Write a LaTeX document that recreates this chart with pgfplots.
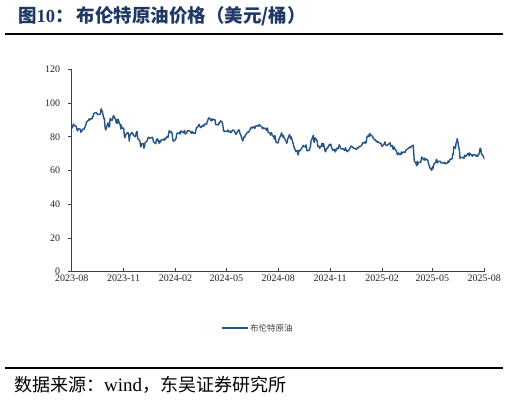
\documentclass[border=0pt]{standalone}
\usepackage{fontspec}
\setmainfont{Liberation Serif}
\newfontfamily\cjk{Noto Sans CJK SC}
\usepackage{pgfplots}
\usepackage{pgfplotstable}
\pgfplotsset{compat=1.18}
\definecolor{lineblue}{RGB}{38,84,134}
\definecolor{titleblue}{RGB}{31,56,100}
\definecolor{axisgray}{RGB}{64,64,64}
\pgfplotstableread{
d v
0 86.2
1 85.3
2 86.2
3 87.6
4 86.4
5 86.8
8 86.2
9 84.9
10 83.5
11 84.1
12 84.8
15 84.5
16 82.6
17 83.2
18 83.4
19 84.5
22 84.4
23 85.5
24 85.9
25 86.9
26 88.6
30 90.0
31 90.6
32 89.9
33 90.6
36 90.6
37 92.1
38 91.9
39 93.7
40 93.9
43 94.4
44 94.3
45 93.5
46 93.3
47 93.3
50 93.3
51 94.0
52 96.6
53 95.4
54 95.3
57 90.7
58 91.0
59 85.8
60 84.1
61 84.6
64 88.2
65 87.7
66 85.8
67 86.0
68 90.9
71 89.7
72 89.9
73 91.5
74 92.4
75 92.2
78 89.8
79 88.1
80 90.1
81 88.0
82 90.5
85 87.5
86 87.4
87 84.6
88 86.9
89 84.9
92 85.2
93 81.6
94 79.5
95 80.0
96 81.4
99 82.5
100 82.5
101 81.2
102 77.4
103 80.6
106 82.3
107 82.5
108 81.9
110 80.6
113 80.0
114 81.7
115 83.1
116 82.8
117 78.9
120 78.0
121 77.2
122 74.3
123 74.1
124 75.8
127 76.0
128 73.2
129 74.3
130 76.6
131 76.6
134 78.0
135 79.2
136 79.7
137 79.4
138 79.1
143 79.7
144 78.4
145 77.0
149 75.9
150 78.3
151 77.6
152 78.8
155 76.1
156 77.6
157 76.8
158 77.4
159 78.3
163 78.3
164 77.9
165 79.1
166 78.6
169 80.1
170 79.6
171 80.0
172 82.4
173 83.6
176 82.4
177 82.9
178 81.7
179 78.7
180 77.3
183 78.0
184 78.6
185 79.2
186 81.6
187 82.2
190 82.0
191 82.8
192 81.6
193 82.9
194 83.5
198 82.3
199 83.0
200 83.7
201 81.6
204 82.5
205 83.7
206 83.7
207 83.6
208 83.6
211 82.8
212 82.0
213 83.0
214 83.0
215 82.1
218 82.2
219 81.9
220 84.0
221 85.4
222 85.3
225 86.9
226 87.4
227 86.0
228 85.8
229 85.4
232 86.8
233 86.3
234 86.1
235 87.5
239 87.4
240 89.0
241 89.4
242 90.7
243 91.2
246 90.4
247 89.4
248 90.5
249 89.7
250 90.5
253 90.1
254 90.0
255 87.3
256 87.1
257 87.3
260 87.0
261 88.4
262 88.0
263 89.0
264 89.5
267 88.4
268 86.3
269 83.4
270 83.7
271 83.0
274 83.3
275 83.2
276 83.6
277 84.0
278 82.8
281 83.4
282 82.4
283 82.8
284 83.3
285 84.0
288 83.7
289 82.9
290 82.0
291 81.4
292 82.1
296 84.2
297 83.6
298 81.9
299 81.6
302 78.4
303 77.5
304 78.4
305 79.9
306 79.6
309 81.6
310 81.9
311 82.6
312 82.8
313 82.6
316 84.3
317 85.3
318 85.1
319 85.7
320 85.2
323 86.0
324 85.0
325 85.3
326 86.4
327 86.4
330 86.6
331 86.2
332 87.3
334 86.5
337 85.8
338 84.7
339 85.1
340 85.4
341 85.0
344 84.9
345 83.7
346 85.1
347 85.1
348 82.6
351 82.4
352 81.0
353 81.7
354 82.4
355 81.1
358 79.8
359 78.6
360 80.7
361 79.5
362 76.8
365 76.3
366 76.5
367 78.3
368 79.2
369 79.7
372 82.3
373 80.7
374 79.8
375 80.9
376 79.7
379 77.7
380 77.2
381 76.1
382 77.2
383 79.0
386 81.4
387 79.6
388 78.7
389 79.9
390 78.8
394 73.8
395 72.7
396 72.7
397 71.1
400 71.8
401 69.2
402 70.6
403 72.0
404 71.6
407 72.8
408 73.7
409 73.7
410 74.9
411 74.5
414 73.9
415 75.2
416 73.5
417 71.6
418 72.0
421 71.8
422 73.6
423 73.9
424 77.6
425 78.1
428 80.9
429 77.2
430 76.6
431 79.4
432 79.0
435 77.5
436 74.3
437 74.2
438 74.5
439 73.1
442 74.3
443 76.0
444 75.0
445 74.4
446 76.1
449 71.4
450 71.1
451 72.6
452 73.2
453 73.1
456 75.1
457 75.5
458 75.0
459 75.6
460 73.9
463 71.8
464 72.0
465 72.3
466 72.6
467 71.0
470 73.3
471 73.3
472 72.8
473 74.2
474 75.2
477 73.0
478 72.8
479 72.8
481 72.9
484 71.8
485 73.6
486 72.3
487 72.1
488 71.1
491 72.1
492 72.2
493 73.5
494 73.4
495 74.5
498 73.9
499 73.2
500 73.4
501 72.9
502 72.9
505 72.6
506 73.6
508 73.3
509 74.2
512 74.4
513 74.6
515 75.9
516 76.5
519 76.3
520 77.1
521 76.2
522 76.9
523 79.8
526 81.0
527 79.9
528 82.0
529 81.3
530 81.0
533 80.2
534 79.3
535 79.0
536 78.3
537 78.5
540 77.1
541 77.5
542 76.6
543 76.9
544 76.8
547 76.0
548 76.2
549 74.6
550 74.3
551 74.7
554 75.9
555 77.0
556 75.2
557 75.0
558 74.7
562 75.8
563 76.0
564 76.5
565 74.4
568 74.8
569 73.0
570 72.5
571 74.0
572 73.2
575 71.6
576 71.0
577 69.3
578 69.5
579 70.4
582 69.3
583 69.6
584 71.0
585 69.9
586 70.6
589 71.1
590 70.6
591 70.8
592 72.0
593 72.2
596 73.0
597 73.0
598 73.8
599 74.0
600 73.6
603 74.7
604 74.5
605 75.0
606 70.1
607 65.6
610 64.2
611 62.8
612 65.5
613 63.3
614 64.8
617 64.9
618 64.7
619 65.9
620 68.0
624 66.3
625 67.4
626 66.1
627 66.6
628 66.9
631 65.9
632 64.3
633 63.1
634 62.1
635 61.3
638 60.2
639 62.2
640 61.1
641 62.8
642 63.9
645 65.0
646 66.6
647 66.1
648 64.5
649 65.4
652 65.5
653 65.4
654 64.9
655 64.4
656 64.8
660 64.1
661 64.9
662 64.2
663 63.9
666 64.6
667 65.6
668 64.9
669 65.3
670 66.5
673 67.0
674 66.9
675 69.8
676 69.4
677 74.2
680 73.2
681 76.5
682 76.7
683 78.9
684 77.0
687 71.5
688 67.1
689 67.7
690 67.7
691 67.8
694 67.6
695 67.1
696 69.1
697 68.8
698 68.3
701 69.6
702 70.2
703 70.2
704 68.6
705 70.4
708 69.2
709 68.7
710 68.5
711 69.5
712 69.3
715 69.2
716 68.6
717 68.5
718 69.2
719 68.4
722 70.0
723 72.5
724 73.2
725 72.5
726 69.7
729 68.8
730 67.6
731 67.1
732 66.4
}\brent
\begin{document}
\begin{tikzpicture}[x=1pt,y=1pt]
\path[use as bounding box] (0pt,0pt) rectangle (509pt,403pt);
\node[anchor=west, text=titleblue, font=\cjk\bfseries\fontsize{18.5}{22}\selectfont, inner sep=0] at (18pt,387pt) {图{\rmfamily\bfseries 10}：\,布伦特原油价格（美元/桶）};
\draw[line width=2pt] (5pt,369pt) -- (503pt,369pt);
\draw[line width=1.5pt] (5pt,35pt) -- (503pt,35pt);
\node[anchor=west, font=\cjk\fontsize{18}{22}\selectfont, inner sep=0] at (14pt,18pt) {数据来源：{\rmfamily\fontsize{19}{22}\selectfont wind}，东吴证券研究所};
\begin{axis}[
  at={(71.7pt,131.3pt)}, anchor=south west,
  scale only axis, width=412.6pt, height=202.4pt,
  xmin=0, xmax=731, ymin=0, ymax=120,
  axis x line*=bottom, axis y line*=left,
  axis line style={axisgray, line width=1.2pt},
  tick style={axisgray, line width=0.9pt},
  major tick length=4pt, tick align=inside,
  every major y tick/.append style={xshift=-4pt},
  xtick={0,92,184,274,366,458,550,639,731},
  xticklabels={2023-08,2023-11,2024-02,2024-05,2024-08,2024-11,2025-02,2025-05,2025-08},
  ytick={0,20,40,60,80,100,120},
  /pgf/number format/assume math mode=true,
  ticklabel style={font=\fontsize{10}{12}\selectfont, text=black!85},
  yticklabel style={xshift=-8pt},
  legend style={at={(0.362,-0.279)}, anchor=west, draw=none, fill=none, inner sep=0pt,
     font=\cjk\fontsize{8.5}{10}\selectfont, text=black!75, nodes={inner sep=1.5pt}},
  legend cell align=left,
  legend image code/.code={\draw[#1] (0pt,0pt) -- (26pt,0pt);},
]
\addplot[lineblue, line width=1.4pt, line join=round] table[x=d, y=v] {\brent};
\addlegendentry{布伦特原油}
\end{axis}
\end{tikzpicture}
\end{document}
